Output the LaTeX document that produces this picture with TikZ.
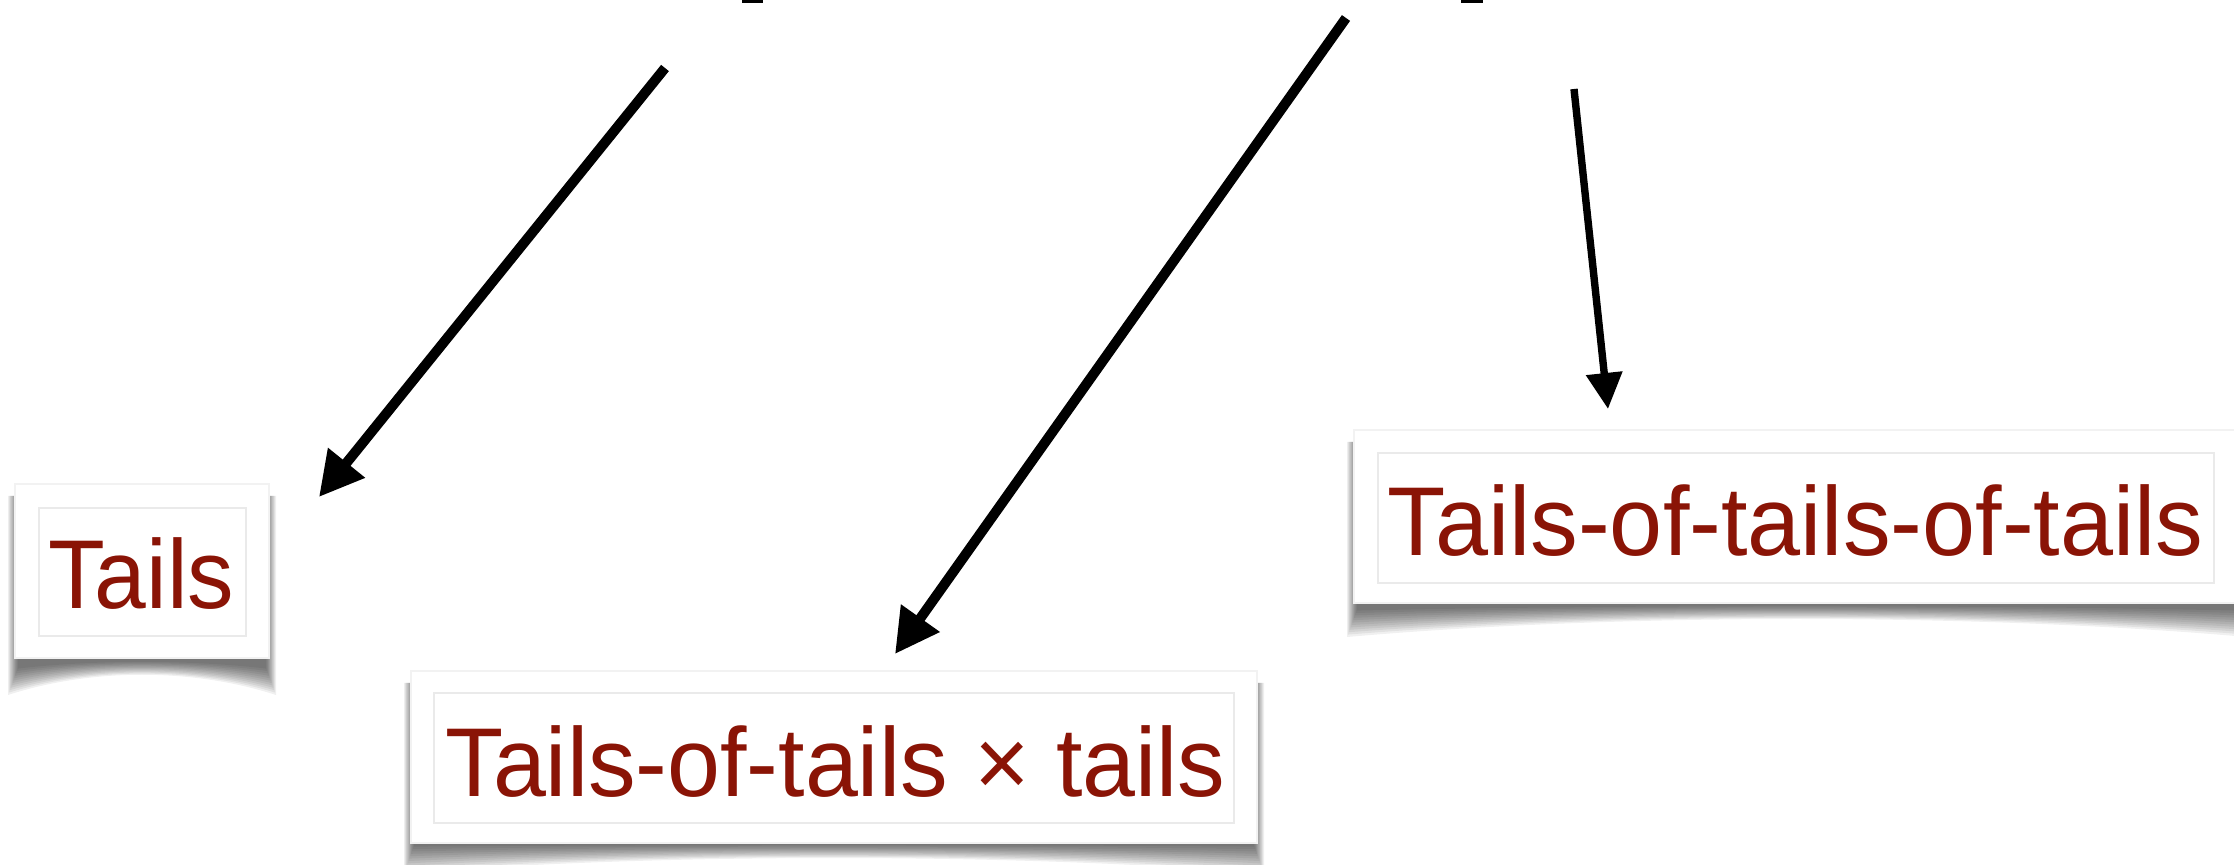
\documentclass[tikz,border=0pt]{standalone}
\usepackage{fontspec}
\setmainfont{Liberation Sans}
\usepackage{graphicx}
\usetikzlibrary{arrows.meta}
\definecolor{tailred}{RGB}{138,20,6}
\definecolor{edgegray}{RGB}{234,234,234}
\tikzset{
  outerbox/.style={draw=edgegray!60, line width=0.6pt, fill=white, inner sep=0pt},
  innerbox/.style={draw=edgegray, line width=1pt, inner sep=0pt},
  tailtext/.style={text=tailred, inner sep=0pt, anchor=base west, font=\fontsize{48.9}{50}\selectfont},
  bigarrow/.style={line width=5pt, line cap=butt, -{Triangle[length=22pt,width=22.5pt]}},
  smallarrow/.style={line width=3.7pt, line cap=butt, -{Triangle[length=18pt,width=17.5pt]}},
  shadowlayer/.style={fill=black, opacity=0.06},
}
\newcommand{\cshadow}[5]{%
  \foreach \k in {0,...,11}{
    \pgfmathsetmacro{\shE}{7-0.9*\k}
    \pgfmathsetmacro{\shD}{#5+2-2.4*\k}
    \pgfmathsetmacro{\shM}{10-0.75*\k}
    \fill[shadowlayer] ({#1-\shE},{#3+12}) -- ({#1-\shE},{#4+\shD})
      .. controls ({#1+0.3*(#2-#1)},{#4+\shM}) and ({#2-0.3*(#2-#1)},{#4+\shM}) ..
      ({#2+\shE},{#4+\shD}) -- ({#2+\shE},{#3+12}) -- cycle;
  }
}
\begin{document}
\begin{tikzpicture}[x=0.5pt,y=-0.5pt]
\useasboundingbox (0,0) rectangle (2234,865);
\clip (0,0) rectangle (2234,865);
\fill[white] (0,0) rectangle (2234,865);

% shadows
\cshadow{15}{269}{484}{658}{35}
\cshadow{411}{1257}{671}{843}{28}
\cshadow{1354}{2240}{430}{603}{32}

% box 1
\node[outerbox, minimum width=127pt, minimum height=87pt] (b1) at (142,571) {};
\node[innerbox, minimum width=103.5pt, minimum height=64pt] (i1) at (142.5,572) {};
\node[tailtext] (t1) at (48,609) {\resizebox{93pt}{\height}{Tails}};

% box 2
\node[outerbox, minimum width=423pt, minimum height=86pt] (b2) at (834,757) {};
\node[innerbox, minimum width=400pt, minimum height=65pt] (i2) at (834,758) {};
\node[tailtext] (t2) at (445,797) {\resizebox{390pt}{\height}{Tails-of-tails × tails}};

% box 3
\node[outerbox, minimum width=443pt, minimum height=86.5pt] (b3) at (1797,516.5) {};
\node[innerbox, minimum width=418pt, minimum height=65pt] (i3) at (1796,518) {};
\node[tailtext] (t3) at (1387,556) {\resizebox{408pt}{\height}{Tails-of-tails-of-tails}};

% fragments at top edge
\fill[black] (742,0) rectangle (763,3);
\fill[black] (1461,0) rectangle (1483,3);

% arrows
\coordinate (s1) at (665,68);
\coordinate (e1) at (319,497);
\coordinate (s2) at (1346,18);
\coordinate (e2) at (895,654);
\coordinate (s3) at (1574,89);
\coordinate (e3) at (1608,409);
\draw[bigarrow] (s1) -- (e1);
\draw[bigarrow] (s2) -- (e2);
\draw[smallarrow] (s3) -- (e3);
\end{tikzpicture}
\end{document}
